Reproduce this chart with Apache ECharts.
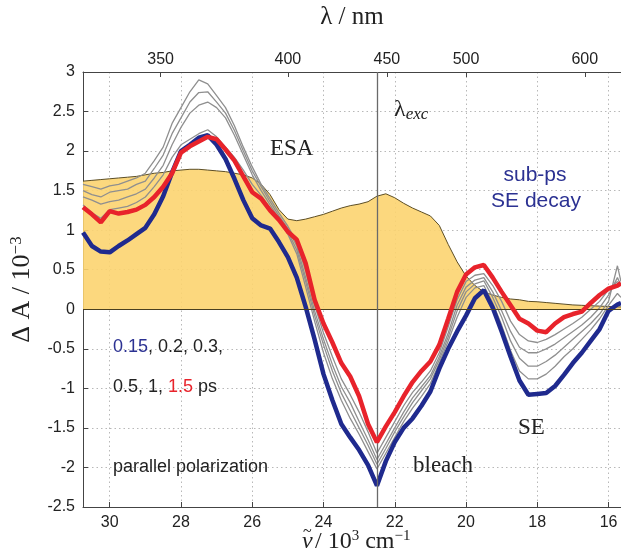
<!DOCTYPE html>
<html>
<head>
<meta charset="utf-8">
<script src="https://cdn.jsdelivr.net/npm/echarts@6/dist/echarts.min.js"></script>
<style>
  html, body { margin: 0; padding: 0; background: #fff; }
  #chart { width: 621px; height: 558px; }
</style>
</head>
<body>
<div id="chart"></div>
<script>
// wavenumber grid, 10^3 cm^-1
const nu = [30.75, 30.5, 30.25, 30, 29.75, 29.5, 29.25, 29, 28.75, 28.5,
  28.25, 28, 27.75, 27.5, 27.25, 27, 26.75, 26.5, 26.25, 26,
  25.75, 25.5, 25.25, 25, 24.75, 24.5, 24.25, 24, 23.75, 23.5,
  23.25, 23, 22.75, 22.5, 22.25, 22, 21.75, 21.5, 21.25, 21,
  20.75, 20.5, 20.25, 20, 19.75, 19.5, 19.25, 19, 18.75, 18.5,
  18.25, 18, 17.75, 17.5, 17.25, 17, 16.75, 16.5, 16.25, 16,
  15.75, 15.65];

// steady-state spectrum (yellow area)
const absorption = [1.62, 1.63, 1.64, 1.65, 1.66, 1.67, 1.68, 1.70, 1.72, 1.73,
  1.75, 1.76, 1.77, 1.77, 1.76, 1.75, 1.74, 1.72, 1.70, 1.66,
  1.58, 1.45, 1.26, 1.14, 1.12, 1.14, 1.17, 1.20, 1.24, 1.28,
  1.31, 1.33, 1.36, 1.43, 1.46, 1.41, 1.34, 1.28, 1.23, 1.18,
  1.06, 0.82, 0.60, 0.42, 0.30, 0.22, 0.18, 0.15, 0.13, 0.12,
  0.10, 0.095, 0.085, 0.075, 0.065, 0.055, 0.05, 0.045, 0.04, 0.035,
  0.03, 0.03];

// transient spectra at 0.15 ps (blue) and 1.5 ps (red)
const t015 = [0.97, 0.80, 0.73, 0.72, 0.80, 0.87, 0.95, 1.03, 1.20, 1.43,
  1.73, 2.00, 2.08, 2.17, 2.20, 2.08, 1.90, 1.65, 1.38, 1.15,
  1.06, 1.02, 0.85, 0.66, 0.40, 0.03, -0.38, -0.82, -1.15, -1.45,
  -1.62, -1.78, -1.97, -2.23, -1.92, -1.68, -1.50, -1.38, -1.22, -1.04,
  -0.75, -0.50, -0.28, -0.08, 0.14, 0.24, 0.02, -0.28, -0.60, -0.90,
  -1.08, -1.07, -1.06, -0.97, -0.83, -0.68, -0.55, -0.40, -0.25, -0.02,
  0.06, 0.08];
const t15 = [1.29, 1.20, 1.10, 1.24, 1.21, 1.23, 1.26, 1.32, 1.42, 1.55,
  1.72, 1.98, 2.06, 2.12, 2.18, 2.15, 2.02, 1.88, 1.68, 1.48,
  1.40, 1.25, 1.13, 0.98, 0.88, 0.58, 0.12, -0.18, -0.42, -0.68,
  -0.85, -1.10, -1.45, -1.68, -1.48, -1.30, -1.10, -0.92, -0.78, -0.66,
  -0.45, -0.12, 0.22, 0.44, 0.53, 0.56, 0.40, 0.22, 0.05, -0.12,
  -0.18, -0.27, -0.29, -0.18, -0.10, -0.06, -0.03, 0.08, 0.18, 0.26,
  0.30, 0.33];

// intermediate delays (grey)
const t02 = [1.32, 1.22, 1.15, 1.26, 1.28, 1.30, 1.35, 1.42, 1.55, 1.70,
  1.92, 2.08, 2.15, 2.22, 2.27, 2.18, 2.05, 1.92, 1.76, 1.58,
  1.44, 1.28, 1.12, 0.95, 0.70, 0.28, -0.15, -0.55, -0.88, -1.15,
  -1.38, -1.58, -1.80, -2.02, -1.82, -1.62, -1.42, -1.25, -1.10, -0.94,
  -0.68, -0.40, -0.10, 0.15, 0.27, 0.30, 0.08, -0.20, -0.52, -0.78,
  -0.88, -0.88, -0.82, -0.72, -0.60, -0.50, -0.38, -0.26, -0.12, 0.05,
  0.20, 0.15];
const t03 = [1.42, 1.38, 1.33, 1.36, 1.38, 1.42, 1.46, 1.52, 1.66, 1.82,
  2.08, 2.30, 2.48, 2.58, 2.62, 2.55, 2.42, 2.20, 1.95, 1.70,
  1.50, 1.32, 1.15, 0.98, 0.75, 0.35, -0.08, -0.45, -0.78, -1.06,
  -1.28, -1.50, -1.72, -1.96, -1.76, -1.55, -1.36, -1.18, -1.03, -0.88,
  -0.64, -0.35, -0.02, 0.22, 0.32, 0.36, 0.15, -0.10, -0.40, -0.62,
  -0.72, -0.72, -0.66, -0.58, -0.48, -0.38, -0.28, -0.18, -0.06, 0.10,
  0.55, 0.35];
const t05 = [1.50, 1.45, 1.42, 1.48, 1.50, 1.52, 1.58, 1.62, 1.78, 1.95,
  2.22, 2.42, 2.62, 2.74, 2.75, 2.62, 2.48, 2.26, 2.00, 1.75,
  1.55, 1.36, 1.18, 1.02, 0.80, 0.40, -0.02, -0.38, -0.70, -0.98,
  -1.18, -1.42, -1.65, -1.90, -1.70, -1.50, -1.30, -1.12, -0.98, -0.84,
  -0.60, -0.30, 0.05, 0.28, 0.37, 0.40, 0.22, -0.02, -0.28, -0.48,
  -0.55, -0.55, -0.50, -0.44, -0.36, -0.28, -0.20, -0.10, 0.02, 0.18,
  0.40, 0.30];
const t1 = [1.58, 1.55, 1.52, 1.56, 1.58, 1.62, 1.66, 1.72, 1.88, 2.05,
  2.35, 2.55, 2.75, 2.90, 2.85, 2.70, 2.55, 2.32, 2.05, 1.80,
  1.58, 1.40, 1.22, 1.05, 0.85, 0.48, 0.05, -0.30, -0.60, -0.88,
  -1.08, -1.30, -1.55, -1.82, -1.62, -1.42, -1.22, -1.05, -0.92, -0.78,
  -0.55, -0.22, 0.12, 0.35, 0.43, 0.45, 0.30, 0.10, -0.15, -0.32,
  -0.40, -0.42, -0.38, -0.32, -0.25, -0.18, -0.10, 0.00, 0.10, 0.25,
  0.35, 0.30];

const nuTicks = [30, 28, 26, 24, 22, 20, 18, 16];
const lambdaTicks = [350, 400, 450, 500, 600];
const nuExc = 22.5;

(function () {
    const chart = echarts.init(document.getElementById('chart'));
    const xMin = 15.65, xMax = 30.75;
    const sans = '"Liberation Sans", Arial, sans-serif';
    const serif = '"Liberation Serif", "DejaVu Serif", serif';
    const pairs = ys => nu.map((v, i) => [v, ys[i]]);
    const topTicks = lambdaTicks.map(l => 1e4 / l);
    const gridDots = { color: '#b8b8b8', type: [1.5, 3], width: 1 };

    const greyLine = ys => ({
        type: 'line', data: pairs(ys), symbol: 'none', z: 3,
        lineStyle: { color: '#8f8f8f', width: 1.3 }
    });

    const option = {
        animation: false,
        grid: { left: 83, top: 67, right: 0, bottom: 51 },
        xAxis: [{
            type: 'value', position: 'bottom', inverse: true, min: xMin, max: xMax,
            axisLine: { show: true, onZero: false, lineStyle: { color: '#444', width: 1 } },
            axisTick: { show: true, inside: true, length: 5, customValues: nuTicks, lineStyle: { color: '#444' } },
            axisLabel: { customValues: nuTicks, color: '#222', fontSize: 16, fontFamily: sans, margin: 8 },
            splitLine: { show: true, lineStyle: gridDots }
        }, {
            type: 'value', position: 'top', inverse: true, min: xMin, max: xMax,
            axisLine: { show: true, onZero: false, lineStyle: { color: '#444', width: 1 } },
            axisTick: { show: true, inside: true, length: 5, customValues: topTicks, lineStyle: { color: '#444' } },
            axisLabel: {
                customValues: topTicks, color: '#222', fontSize: 16, fontFamily: sans, margin: 4,
                formatter: v => String(Math.round(1e4 / v))
            },
            splitLine: { show: false },
            name: 'λ / nm', nameLocation: 'middle', nameGap: 42,
            nameTextStyle: { fontFamily: serif, fontSize: 25, color: '#222' }
        }],
        yAxis: {
            type: 'value', min: -2.5, max: 3, interval: 0.5,
            axisLine: { show: true, onZero: false, lineStyle: { color: '#444', width: 1 } },
            axisTick: { show: true, inside: true, length: 5, lineStyle: { color: '#444' } },
            axisLabel: { color: '#222', fontSize: 16, fontFamily: sans, margin: 8 },
            splitLine: { show: true, lineStyle: gridDots },
            name: 'Δ A / 10{sup|−3}', nameLocation: 'middle', nameGap: 46, nameRotate: 90,
            nameTextStyle: {
                fontFamily: serif, fontSize: 26, color: '#222',
                rich: { sup: { fontFamily: serif, fontSize: 17, verticalAlign: 'top', color: '#222', padding: [0, 0, 12, 0] } }
            }
        },
        series: [{
            type: 'line', data: pairs(absorption), symbol: 'none', z: 1,
            lineStyle: { color: '#5c4e26', width: 1 },
            areaStyle: { color: '#fcd470', opacity: 0.9, origin: 0 },
            markLine: {
                silent: true, symbol: 'none', label: { show: false },
                data: [
                    { yAxis: 0, lineStyle: { color: '#4a4020', width: 1, type: 'solid' } },
                    { xAxis: nuExc, lineStyle: { color: '#6a6a6a', width: 1.3, type: 'solid' } }
                ]
            }
        },
        greyLine(t02), greyLine(t03), greyLine(t05), greyLine(t1),
        {
            type: 'line', data: pairs(t015), symbol: 'none', z: 4,
            lineStyle: { color: '#1f2a8e', width: 4.5 }
        }, {
            type: 'line', data: pairs(t15), symbol: 'none', z: 5,
            lineStyle: { color: '#e8232b', width: 4.5 }
        }],
        graphic: [
            // x-axis title: nu with tilde drawn as two stacked glyphs
            { type: 'text', z: 10, style: { x: 302, y: 542, text: 'ν', font: 'italic 24px ' + serif, fill: '#222', verticalAlign: 'middle' } },
            { type: 'text', z: 10, style: { x: 303, y: 532, text: '~', font: '16px ' + serif, fill: '#222', verticalAlign: 'middle' } },
            {
                type: 'text', z: 10, style: {
                    x: 315, y: 542, text: '/ 10{sup|3} cm{sup|−1}', font: '24px ' + serif, fill: '#222', verticalAlign: 'middle',
                    rich: { sup: { font: '15px ' + serif, fill: '#222', verticalAlign: 'top', padding: [0, 0, 12, 0] } }
                }
            },
            { type: 'text', z: 10, style: { x: 270, y: 149, text: 'ESA', font: '23px ' + serif, fill: '#222', verticalAlign: 'middle' } },
            {
                type: 'text', z: 10, style: {
                    x: 394, y: 110, text: '{l|λ}{s|exc}', verticalAlign: 'middle', fill: '#222',
                    rich: {
                        l: { font: '24px ' + serif, fill: '#222' },
                        s: { font: 'italic 17px ' + serif, fill: '#222', padding: [10, 0, 0, 0] }
                    }
                }
            },
            { type: 'text', z: 10, style: { x: 535, y: 175, text: 'sub-ps', font: '21px ' + sans, fill: '#2b3192', align: 'center', verticalAlign: 'middle' } },
            { type: 'text', z: 10, style: { x: 536, y: 201, text: 'SE decay', font: '21px ' + sans, fill: '#2b3192', align: 'center', verticalAlign: 'middle' } },
            {
                type: 'text', z: 10, style: {
                    x: 113, y: 347, text: '{b|0.15}, 0.2, 0.3,', font: '18px ' + sans, fill: '#222', verticalAlign: 'middle',
                    rich: { b: { font: '18px ' + sans, fill: '#2b3192' } }
                }
            },
            {
                type: 'text', z: 10, style: {
                    x: 113, y: 387, text: '0.5, 1, {r|1.5} ps', font: '18px ' + sans, fill: '#222', verticalAlign: 'middle',
                    rich: { r: { font: '18px ' + sans, fill: '#e8232b' } }
                }
            },
            { type: 'text', z: 10, style: { x: 113, y: 467, text: 'parallel polarization', font: '18px ' + sans, fill: '#222', verticalAlign: 'middle' } },
            { type: 'text', z: 10, style: { x: 413, y: 466, text: 'bleach', font: '23px ' + serif, fill: '#222', verticalAlign: 'middle' } },
            { type: 'text', z: 10, style: { x: 518, y: 428, text: 'SE', font: '23px ' + serif, fill: '#222', verticalAlign: 'middle' } }
        ]
    };
    chart.setOption(option);
})();
</script>
</body>
</html>
